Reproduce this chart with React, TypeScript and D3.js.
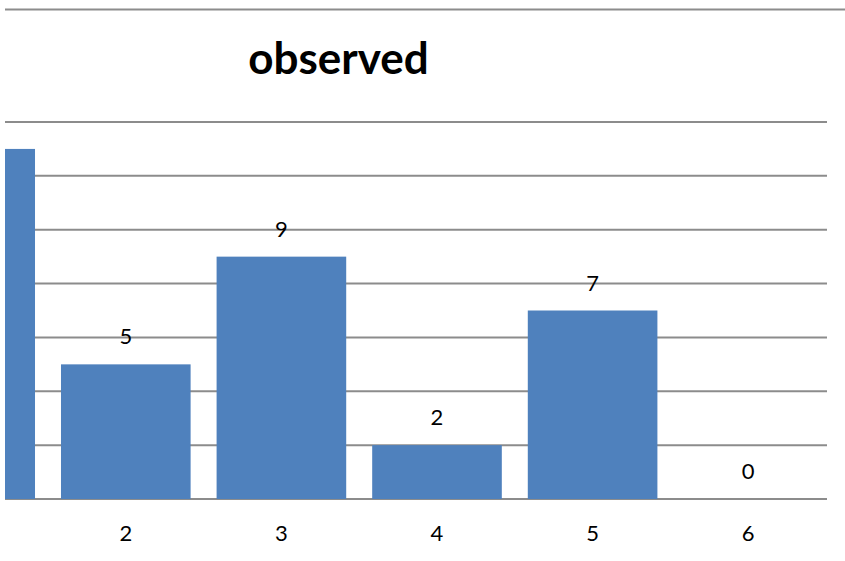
import * as d3 from 'd3';
import React, { useRef, useEffect } from 'react';

const categories = ['1', '2', '3', '4', '5', '6'];
const observed = [13, 5, 9, 2, 7, 0];
const yTicks = [0, 2, 4, 6, 8, 10, 12, 14];
const title = 'observed';

const App: React.FC = () => {
    const ref = useRef<SVGSVGElement | null>(null);

    useEffect(() => {
        const width = 845;
        const height = 561;
        const svg = d3.select(ref.current).attr('width', width).attr('height', height);
        svg.selectAll('*').remove();

        const font = "Lato, 'Open Sans', sans-serif";

        // visible plot window (the original chart is cut on the left)
        const clipLeft = 5;
        const plotRight = 827;
        const plotTop = 122;
        const plotBottom = 499;

        svg.append('rect').attr('width', width).attr('height', height).attr('fill', '#fff');

        // chart border top
        svg.append('line')
            .attr('x1', clipLeft)
            .attr('x2', width)
            .attr('y1', 9.5)
            .attr('y2', 9.5)
            .attr('stroke', '#8c8c8c')
            .attr('stroke-width', 2);

        svg.append('text')
            .attr('x', 338.5)
            .attr('y', 74)
            .attr('text-anchor', 'middle')
            .style('font-family', font)
            .style('font-weight', 'bold')
            .style('font-size', '44px')
            .text(title);

        svg.append('defs')
            .append('clipPath')
            .attr('id', 'plot-clip')
            .append('rect')
            .attr('x', clipLeft)
            .attr('y', 0)
            .attr('width', plotRight - clipLeft)
            .attr('height', height);

        const x = d3
            .scaleBand()
            .domain(categories)
            .range([-107.6, 826])
            .paddingInner(0.167)
            .paddingOuter(0.0835);

        const y = d3.scaleLinear().domain([0, 14]).range([plotBottom, plotTop]);
        const cx = (c: string) => x(c)! + x.bandwidth() / 2;

        const chart = svg.append('g').attr('clip-path', 'url(#plot-clip)');

        // gridlines
        chart
            .selectAll('.grid')
            .data(yTicks)
            .join('line')
            .attr('x1', clipLeft)
            .attr('x2', plotRight)
            .attr('y1', (d) => y(d))
            .attr('y2', (d) => y(d))
            .attr('stroke', '#8c8c8c')
            .attr('stroke-width', 2);

        // bars
        chart
            .selectAll('.bar')
            .data(observed)
            .join('rect')
            .attr('x', (_, i) => x(categories[i])!)
            .attr('y', (d) => y(d))
            .attr('width', x.bandwidth())
            .attr('height', (d) => y(0) - y(d))
            .attr('fill', '#4f81bd');

        // only the categories whose centre is inside the visible window get text
        const visible = categories
            .map((c, i) => ({ c, v: observed[i] }))
            .filter((d) => cx(d.c) > clipLeft);

        // data labels
        svg.selectAll('.label')
            .data(visible)
            .join('text')
            .attr('x', (d) => cx(d.c))
            .attr('y', (d) => y(d.v) - 20)
            .attr('text-anchor', 'middle')
            .style('font-family', font)
            .style('font-size', '22px')
            .text((d) => d.v);

        // category axis labels
        svg.selectAll('.cat')
            .data(visible)
            .join('text')
            .attr('x', (d) => cx(d.c))
            .attr('y', 541)
            .attr('text-anchor', 'middle')
            .style('font-family', font)
            .style('font-size', '22px')
            .text((d) => d.c);
    }, []);

    return <svg ref={ref} style={{ position: 'absolute', left: 0, top: 0 }}></svg>;
};

export default App;
